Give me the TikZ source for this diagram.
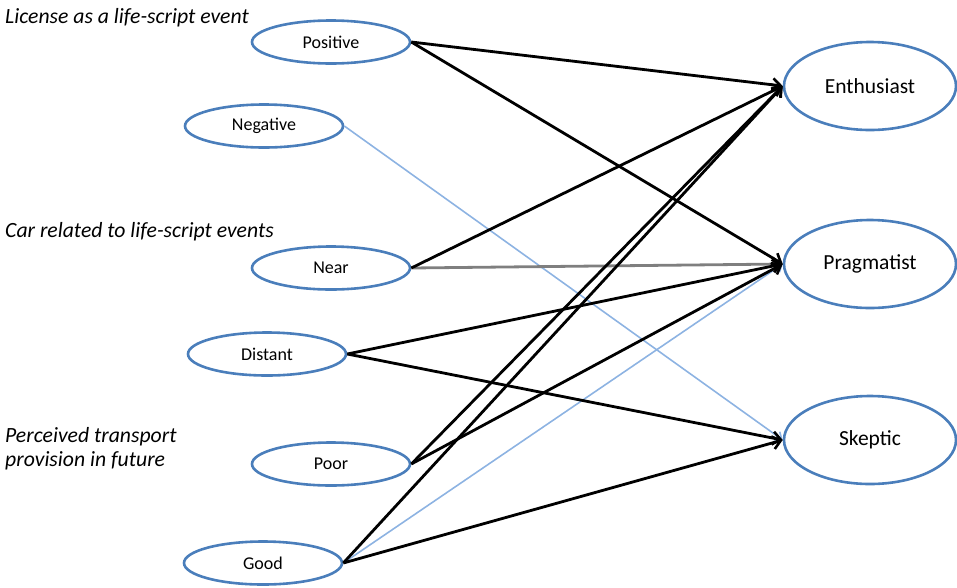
\documentclass[tikz,border=0pt]{standalone}
\usepackage{fontspec}
\setmainfont{Carlito}
\usetikzlibrary{shapes.geometric,arrows.meta}
\definecolor{ellblue}{HTML}{4A7EBB}
\definecolor{lblue}{HTML}{8DB3E2}
\definecolor{dgray}{HTML}{7F7F7F}
\begin{document}
\begin{tikzpicture}[x=1pt,y=-1pt,
  sm/.style={ellipse,draw=ellblue,line width=2.6pt,minimum width=158pt,minimum height=43pt,inner sep=0pt,font=\fontsize{18}{21}\selectfont},
  bg/.style={ellipse,draw=ellblue,line width=2.6pt,minimum width=172pt,minimum height=88pt,inner sep=0pt,font=\fontsize{21.5}{25}\selectfont},
  hd/.style={anchor=base west,inner sep=0pt,font=\fontsize{21.7}{24}\selectfont\itshape},
  tip/.style={-{Straight Barb[length=8pt,width=13pt,line width=2.6pt]}},
  blk/.style={tip,draw=black,line width=2.8pt},
  gry/.style={tip,draw=dgray,line width=2.8pt},
  lbl/.style={-{Straight Barb[length=6pt,width=10pt,line width=1.6pt]},draw=lblue,line width=1.6pt}
]
\useasboundingbox (0,0) rectangle (957,587);

\node[hd] (h1) at (5,23) {License as a life-script event};
\node[hd] (h2) at (5,237) {Car related to life-script events};
\node[hd] (h3) at (5,442) {Perceived transport};
\node[hd] (h4) at (5,466) {provision in future};

\node[sm] (pos) at (331,42) {Positive};
\node[sm] (neg) at (264,126) {Negative};
\node[sm] (near) at (331,268) {Near};
\node[sm] (dist) at (267,354) {Distant};
\node[sm] (poor) at (331,464) {Poor};
\node[sm] (good) at (263,563) {Good};

\node[bg] (ent) at (870,86) {Enthusiast};
\node[bg] (prag) at (870,264) {Pragmatist};
\node[bg] (skep) at (870,440) {Skeptic};

\draw[lbl] (neg.east) -- (skep.west);
\draw[lbl] (good.east) -- (prag.west);
\draw[gry] (near.east) -- (prag.west);
\draw[blk] (pos.east) -- (ent.west);
\draw[blk] (pos.east) -- (prag.west);
\draw[blk] (near.east) -- (ent.west);
\draw[blk] (dist.east) -- (prag.west);
\draw[blk] (dist.east) -- (skep.west);
\draw[blk] (poor.east) -- (ent.west);
\draw[blk] (poor.east) -- (prag.west);
\draw[blk] (good.east) -- (ent.west);
\draw[blk] (good.east) -- (skep.west);
\end{tikzpicture}
\end{document}
